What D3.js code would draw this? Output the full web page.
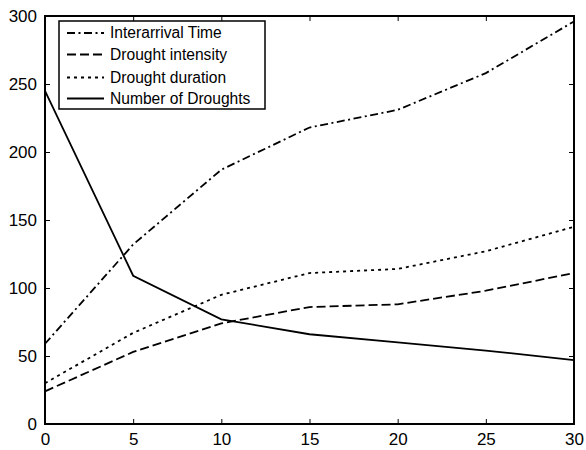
<!DOCTYPE html>
<html>
<head>
<meta charset="utf-8">
<script src="https://cdn.jsdelivr.net/npm/d3@7"></script>
<style>
  html, body { margin: 0; padding: 0; background: #fff; }
  svg { display: block; font-family: "Liberation Sans", Arial, Helvetica, sans-serif; }
</style>
</head>
<body>
<svg id="chart" width="586" height="450"></svg>
<script>
// Return period (x) and drought characteristics (y)
const xValues = [0, 5, 10, 15, 20, 25, 30];
const interarrivalTime = [59, 132, 187, 218, 231, 258, 296];
const droughtIntensity = [24, 53, 74, 86, 88, 98, 111];
const droughtDuration = [30, 67, 95, 111, 114, 127, 145];
const numberOfDroughts = [245, 109, 77, 66, 60, 54, 47];
const xTicks = [0, 5, 10, 15, 20, 25, 30];
const yTicks = [0, 50, 100, 150, 200, 250, 300];

const seriesNames = ["Interarrival Time", "Drought intensity", "Drought duration", "Number of Droughts"];
const seriesData = [interarrivalTime, droughtIntensity, droughtDuration, numberOfDroughts];
const dashes = ["8,3.5,2,3.5", "9,4", "3,4", null];

const svg = d3.select("#chart");
const plotLeft = 45, plotRight = 574, plotTop = 16, plotBottom = 424;

const x = d3.scaleLinear().domain([0, 30]).range([plotLeft, plotRight]);
const y = d3.scaleLinear().domain([0, 300]).range([plotBottom, plotTop]);

const tickLen = 5;

// Axes with inward ticks on all four sides
const axisB = d3.axisBottom(x).tickValues(xTicks).tickSizeInner(-tickLen).tickSizeOuter(0).tickPadding(9);
const axisL = d3.axisLeft(y).tickValues(yTicks).tickSizeInner(-tickLen).tickSizeOuter(0).tickPadding(8);
const axisT = d3.axisTop(x).tickValues(xTicks).tickSizeInner(-tickLen).tickSizeOuter(0).tickFormat("");
const axisR = d3.axisRight(y).tickValues(yTicks).tickSizeInner(-tickLen).tickSizeOuter(0).tickFormat("");

function styleAxis(g) {
  g.select(".domain").remove();
  g.selectAll(".tick line").attr("stroke", "#000").attr("stroke-width", 1);
  g.selectAll(".tick text").attr("fill", "#000").style("font-size", "17px");
}

svg.append("g").attr("transform", `translate(0,${plotBottom})`).call(axisB).call(styleAxis);
svg.append("g").attr("transform", `translate(${plotLeft},0)`).call(axisL).call(styleAxis);
svg.append("g").attr("transform", `translate(0,${plotTop})`).call(axisT).call(styleAxis);
svg.append("g").attr("transform", `translate(${plotRight},0)`).call(axisR).call(styleAxis);

// Plot box
svg.append("rect")
  .attr("x", plotLeft).attr("y", plotTop)
  .attr("width", plotRight - plotLeft).attr("height", plotBottom - plotTop)
  .attr("fill", "none").attr("stroke", "#000").attr("stroke-width", 2);

// Series lines
const line = d3.line().x((d, i) => x(xValues[i])).y(d => y(d));
seriesData.forEach((vals, k) => {
  svg.append("path")
    .datum(vals)
    .attr("d", line)
    .attr("fill", "none")
    .attr("stroke", "#000")
    .attr("stroke-width", 1.8)
    .attr("stroke-dasharray", dashes[k]);
});

// Legend
const lg = svg.append("g");
lg.append("rect")
  .attr("x", 59).attr("y", 21).attr("width", 206).attr("height", 88)
  .attr("fill", "#fff").attr("stroke", "#000").attr("stroke-width", 1.5);
const rowY = [33, 54.5, 77.5, 98.5];
seriesNames.forEach((name, k) => {
  lg.append("line")
    .attr("x1", 67).attr("x2", 104)
    .attr("y1", rowY[k]).attr("y2", rowY[k])
    .attr("stroke", "#000").attr("stroke-width", 1.8)
    .attr("stroke-dasharray", dashes[k]);
  lg.append("text")
    .attr("x", 110).attr("y", rowY[k])
    .attr("dy", "0.35em")
    .style("font-size", "15.6px")
    .attr("fill", "#000")
    .text(name);
});
</script>
</body>
</html>
